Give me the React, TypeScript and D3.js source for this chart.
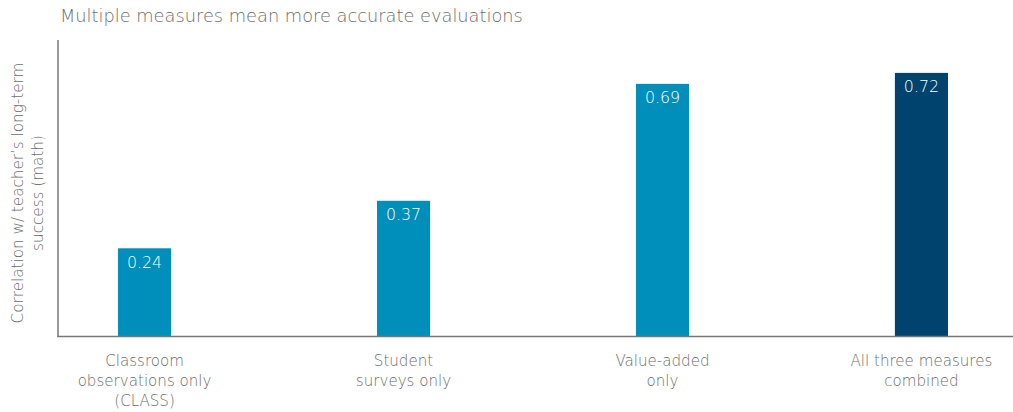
import React from "react";
import * as d3 from "d3";

const categories: string[][] = [
  ["Classroom", "observations only", "(CLASS)"],
  ["Student", "surveys only"],
  ["Value-added", "only"],
  ["All three measures", "combined"],
];
const values: number[] = [0.24, 0.37, 0.69, 0.72];
const highlight: boolean[] = [false, false, false, true];
const title = "Multiple measures mean more accurate evaluations";
const yLabel = ["Correlation w/ teacher\u2019s long-term", "success (math)"];

const W = 1013;
const H = 412;
const FONT = "'DejaVu Sans', sans-serif";
const TEXT = "#6e6e6e";

export default function App() {
  const x0 = 58;
  const yBase = 336;
  const yTop = 40;
  const y = d3.scaleLinear().domain([0, 0.81]).range([yBase, yTop]);
  const x = d3
    .scaleBand<number>()
    .domain(values.map((_, i) => i))
    .range([x0 + 1.5, 1006.5])
    .paddingInner(0.795)
    .paddingOuter(0.226);
  const bw = x.bandwidth();
  return (
    <svg
      width={W}
      height={H}
      style={{ position: "absolute", left: 0, top: 0, background: "#fff" }}
      fontFamily={FONT}
    >
      <text x={60} y={22} fontSize={17.8} fill={TEXT} fontWeight={200}>
        {title}
      </text>
      <g transform={`translate(18, ${(yTop + yBase) / 2 + 5}) rotate(-90)`}>
        {yLabel.map((l, i) => (
          <text key={i} x={0} y={i * 20 + 5} textAnchor="middle" fontSize={15.2} fill={TEXT} fontWeight={200}>
            {l}
          </text>
        ))}
      </g>
      {values.map((v, i) => (
        <g key={i}>
          <rect
            x={x(i)}
            y={y(v)}
            width={bw}
            height={yBase - y(v)}
            fill={highlight[i] ? "#00436f" : "#008fba"}
          />
          <text
            x={(x(i) as number) + bw / 2}
            y={y(v) + 19.5}
            textAnchor="middle"
            fontSize={15.8}
            fill="#fff"
            fontWeight={200}
          >
            {v.toFixed(2)}
          </text>
          {categories[i].map((l, j) => (
            <text
              key={j}
              x={(x(i) as number) + bw / 2}
              y={366 + j * 20}
              textAnchor="middle"
              fontSize={15.1}
              fill={TEXT}
              fontWeight={200}
            >
              {l}
            </text>
          ))}
        </g>
      ))}
      <line x1={x0} x2={x0} y1={yTop} y2={yBase + 1} stroke="#777" strokeWidth={1.5} />
      <line x1={x0 - 0.75} x2={W} y1={yBase + 0.5} y2={yBase + 0.5} stroke="#777" strokeWidth={1.5} />
    </svg>
  );
}
